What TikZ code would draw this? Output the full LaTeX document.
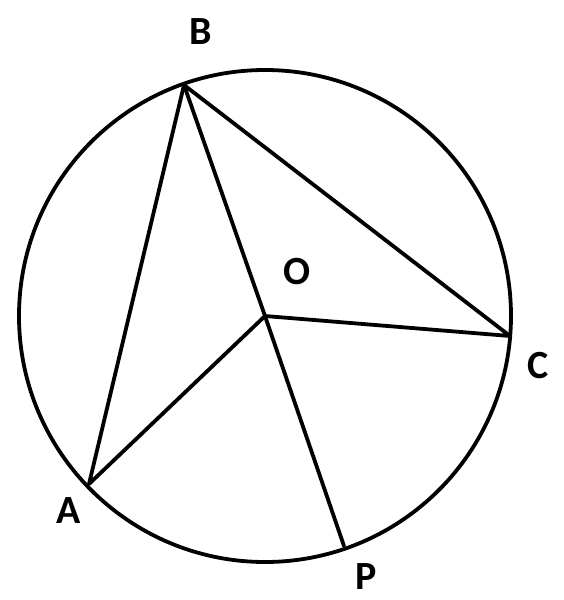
\documentclass[tikz,border=0pt]{standalone}
\usepackage{fontspec}
\setmainfont{Carlito}
\newfontfamily\lblfont[Scale=4.0]{Carlito Bold}
\begin{document}
\begin{tikzpicture}[x=1pt,y=-1pt,
  seg/.style={line width=3.8pt,line cap=round,line join=round},
  lbl/.style={font=\lblfont,inner sep=0pt}]
\useasboundingbox (0,0) rectangle (563,600);
\coordinate (O) at (265,316);
\coordinate (B) at (184,85);
\coordinate (C) at (510,336);
\coordinate (A) at (89,484);
\coordinate (P) at (344,546);
\draw[seg] (265,316) circle (246);
\draw[seg] (A) -- (B) -- (C) -- (O) -- (A);
\draw[seg] (B) -- (O) -- (P);
\node[lbl] (lB) at (201,32) {B};
\node[lbl] (lO) at (297,272) {O};
\node[lbl] (lC) at (538,366) {C};
\node[lbl] (lA) at (69,511) {A};
\node[lbl] (lP) at (366,577) {P};
\end{tikzpicture}
\end{document}
